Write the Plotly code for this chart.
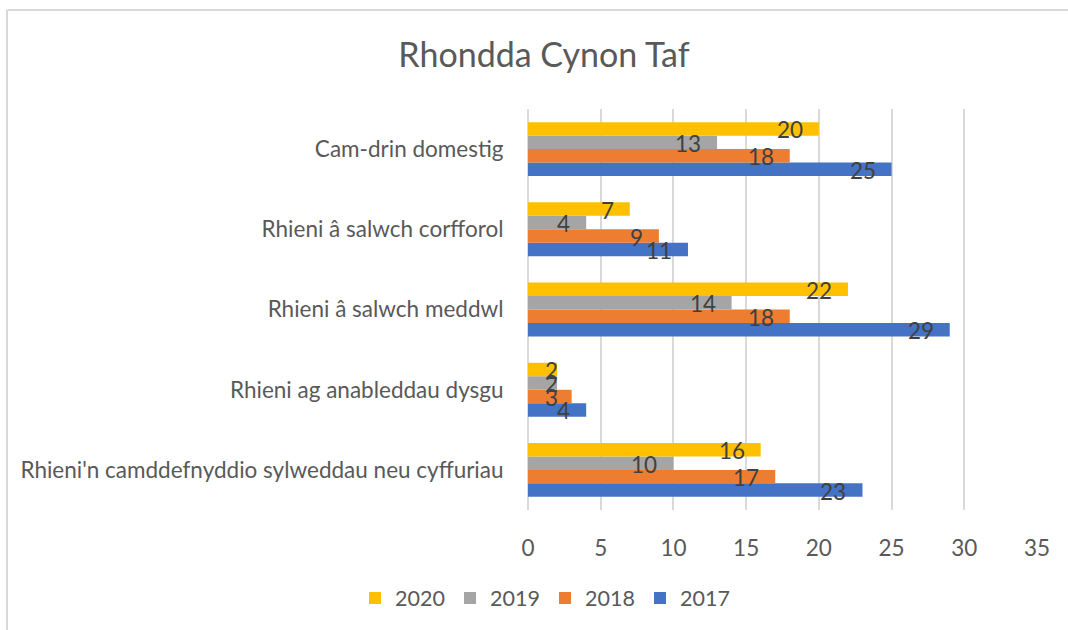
import plotly.graph_objects as go

# ---- data (categories listed bottom -> top, as in the chart) ----
categories = [
    "Rhieni'n camddefnyddio sylweddau neu cyffuriau",
    "Rhieni ag anableddau dysgu",
    "Rhieni â salwch meddwl",
    "Rhieni â salwch corfforol",
    "Cam-drin domestig",
]
years = ["2017", "2018", "2019", "2020"]
values_2017 = [23, 4, 29, 11, 25]
values_2018 = [17, 3, 18, 9, 18]
values_2019 = [10, 2, 14, 4, 13]
values_2020 = [16, 2, 22, 7, 20]
colors = ["#4472C4", "#ED7D31", "#A5A5A5", "#FFC000"]
x_ticks = [0, 5, 10, 15, 20, 25, 30, 35]

series_values = [values_2017, values_2018, values_2019, values_2020]

# ---- layout constants ----
W, H = 1068, 630
ML, MR, MT, MB = 528, 31, 109, 120
XMAX = 35
BAR_W = 0.168
PW = W - ML - MR
PH = H - MT - MB
PX_PER_UNIT = PW / XMAX
FONT = "Lato"
TXT = "#595959"
LBL = "#404040"
FS = 22.5

fig = go.Figure()
ypos = list(range(len(categories)))
for k, (name, vals, color) in enumerate(zip(years, series_values, colors)):
    off = (k - 1.5) * BAR_W
    ys = [i + off for i in ypos]
    fig.add_trace(go.Bar(
        x=vals, y=ys, orientation="h", width=BAR_W, name=name,
        marker=dict(color=color, line=dict(width=0)), hoverinfo="skip",
    ))
    for v, y in zip(vals, ys):
        t = str(v)
        tw = 12 * len(t)
        if v * PX_PER_UNIT - 16 - tw < 16:
            fig.add_annotation(x=0, y=y, text=t, showarrow=False, xanchor="left",
                               xshift=15, yshift=-1,
                               font=dict(family=FONT, size=FS, color=LBL))
        else:
            fig.add_annotation(x=v, y=y, text=t, showarrow=False, xanchor="right",
                               xshift=-14, yshift=-1,
                               font=dict(family=FONT, size=FS, color=LBL))

def px_x(px):
    return (px - ML) / PW

def px_y(py):
    return (H - MB - py) / PH

# outer chart border (left and top edges visible)
fig.add_shape(type="line", xref="paper", yref="paper",
              x0=px_x(7), x1=px_x(7), y0=px_y(10), y1=px_y(640),
              line=dict(color="#D9D9D9", width=2))
fig.add_shape(type="line", xref="paper", yref="paper",
              x0=px_x(7), x1=px_x(1080), y0=px_y(10), y1=px_y(10),
              line=dict(color="#D9D9D9", width=2))

fig.update_layout(
    width=W, height=H,
    margin=dict(l=ML, r=MR, t=MT, b=MB),
    paper_bgcolor="white", plot_bgcolor="white",
    barmode="overlay",
    title=dict(text="Rhondda Cynon Taf", x=px_x(544), xref="paper", xanchor="center",
               y=1 - 55 / H, yref="container", yanchor="middle",
               font=dict(family=FONT, size=34, color=TXT)),
    font=dict(family=FONT, size=FS, color=TXT),
    showlegend=True,
    legend=dict(orientation="h", traceorder="reversed",
                entrywidth=50, entrywidthmode="pixels",
                x=px_x(545), xanchor="center", xref="paper",
                y=1 - 598 / H, yref="container", yanchor="middle",
                font=dict(family=FONT, size=21.5, color=TXT)),
    xaxis=dict(range=[0, XMAX], tickvals=x_ticks, showgrid=True,
               gridcolor="#D9D9D9", gridwidth=2, zeroline=True,
               zerolinecolor="#D9D9D9", zerolinewidth=2, showline=False,
               ticks="outside", ticklen=18, tickcolor="rgba(0,0,0,0)",
               tickfont=dict(family=FONT, size=FS, color=TXT), fixedrange=True),
    yaxis=dict(range=[-0.5, len(categories) - 0.5], tickvals=ypos, ticktext=categories,
               showgrid=False, zeroline=False, showline=False,
               ticks="outside", ticklen=19, tickcolor="rgba(0,0,0,0)",
               tickfont=dict(family=FONT, size=FS, color=TXT), fixedrange=True),
)

fig.write_html("out.html", config={"displayModeBar": False},
               post_script="document.body.style.margin='0';document.body.style.overflow='hidden';")
